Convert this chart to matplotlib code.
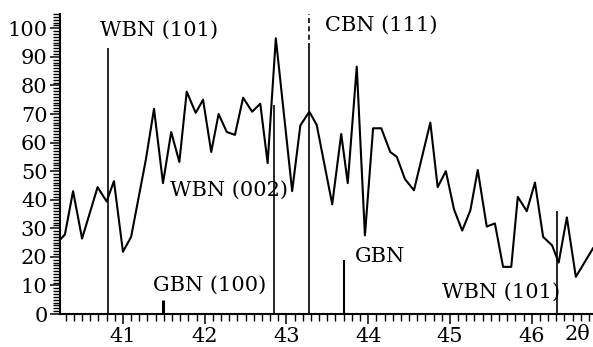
import matplotlib
matplotlib.use("Agg")
import matplotlib.pyplot as plt
from matplotlib.ticker import MultipleLocator

# XRD pattern (2-theta in degrees, intensity in a.u.)
two_theta = [40.23, 40.29, 40.39, 40.50, 40.69, 40.80, 40.89, 41.00, 41.10, 41.28,
             41.38, 41.49, 41.59, 41.69, 41.78, 41.89, 41.98, 42.08, 42.17, 42.27,
             42.37, 42.47, 42.58, 42.68, 42.77, 42.87, 43.07, 43.17, 43.28, 43.37,
             43.56, 43.67, 43.75, 43.86, 43.96, 44.06, 44.16, 44.27, 44.35, 44.45,
             44.56, 44.76, 44.85, 44.95, 45.05, 45.15, 45.25, 45.34, 45.45, 45.55,
             45.65, 45.75, 45.83, 45.94, 46.04, 46.14, 46.25, 46.33, 46.43, 46.54,
             46.75]
intensity = [26.0, 27.8, 43.0, 26.4, 44.4, 39.4, 46.5, 21.8, 27.0, 54.0,
             71.8, 45.8, 63.7, 53.2, 77.8, 70.4, 75.0, 56.7, 70.0, 63.7,
             62.7, 75.7, 70.8, 73.6, 52.8, 96.5, 43.0, 66.0, 70.8, 66.2,
             38.4, 63.0, 45.8, 86.6, 27.5, 65.0, 65.0, 56.7, 55.0, 47.2,
             43.3, 67.0, 44.4, 50.0, 36.6, 29.2, 36.3, 50.4, 30.6, 31.7,
             16.5, 16.5, 41.0, 36.0, 46.0, 27.0, 24.0, 18.0, 33.8, 13.0,
             23.0]

# reference reflections
ref_pos = [40.82, 42.85, 43.28, 41.49, 43.70, 46.31]
ref_height = [93, 73, 93, 5, 19, 36]
ref_width = [1.2, 1.2, 1.2, 2.2, 1.5, 1.2]

labels = ["WBN (101)", "CBN (111)", "WBN (002)", "GBN (100)", "GBN", "WBN (101)"]
label_x = [40.72, 43.47, 41.58, 41.37, 43.84, 44.90]
label_y = [99.4, 101.0, 43.4, 10.2, 20.3, 7.7]

plt.rcParams["font.family"] = ["DejaVu Serif"]
fig = plt.figure(figsize=(5.93, 3.47), dpi=100)
ax = fig.add_axes([60 / 593, 33 / 347, 533 / 593, 300 / 347])

ax.plot(two_theta, intensity, color="black", lw=1.5, clip_on=False)

for p, h, w in zip(ref_pos, ref_height, ref_width):
    ax.vlines(p, 0, h, color="black", lw=w)
# CBN (111) continues dashed above the frame
ax.vlines(ref_pos[2], ref_height[2], 105, color="black", lw=1.2,
          linestyles=(0, (3, 2)))

for t, x, y in zip(labels, label_x, label_y):
    ax.text(x, y, t, ha="left", va="center", fontsize=15)

ax.set_xlim(40.23, 46.75)
ax.set_ylim(0, 105)
ax.xaxis.set_major_locator(MultipleLocator(1))
ax.xaxis.set_minor_locator(MultipleLocator(0.1))
ax.yaxis.set_minor_locator(MultipleLocator(1))
ax.set_yticks(range(0, 101, 10))
ax.tick_params(axis="both", which="major", direction="out", length=7, width=1.1,
               labelsize=15)
ax.tick_params(axis="both", which="minor", direction="out", length=5, width=1.0)
ax.tick_params(axis="x", which="major", pad=2)
ax.tick_params(axis="y", which="major", pad=2)

for s in ["top", "right"]:
    ax.spines[s].set_visible(False)
for s in ["left", "bottom"]:
    ax.spines[s].set_linewidth(1.5)

fig.text(590 / 593, 1 - 334 / 347, "2θ", fontsize=15, va="center", ha="right")

fig.savefig("out.png", dpi=100)
